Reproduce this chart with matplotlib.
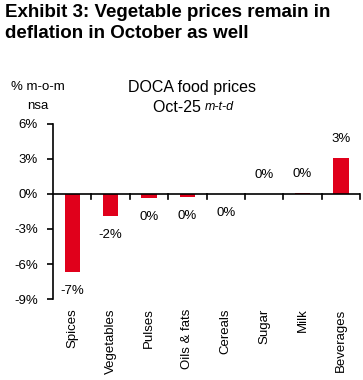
import matplotlib as mpl
import matplotlib.pyplot as plt
from matplotlib.ticker import FuncFormatter

plt.rcParams['font.family'] = ['Liberation Sans', 'DejaVu Sans']

categories = ['Spices', 'Vegetables', 'Pulses', 'Oils & fats', 'Cereals', 'Sugar', 'Milk', 'Beverages']
values = [-6.7, -1.9, -0.35, -0.3, -0.02, 0.02, 0.1, 3.1]
labels = ['-7%', '-2%', '0%', '0%', '0%', '0%', '0%', '3%']
yticks = [6, 3, 0, -3, -6, -9]

red = '#E0001B'

fig = plt.figure(figsize=(3.63, 3.80), dpi=100)
ax = fig.add_axes([0.146, 0.213, 0.846, 0.461])

x = list(range(len(categories)))
ax.bar(x, values, width=0.4, color=red, zorder=2)

for i, v in enumerate(values):
  # small bars still get their label on the side of their sign
  if v < 0:
    ax.annotate(labels[i], (i, v), xytext=(0, -9), textcoords='offset points',
                ha='center', va='top', fontsize=9.5)
  else:
    ax.annotate(labels[i], (i, v), xytext=(0, 9), textcoords='offset points',
                ha='center', va='bottom', fontsize=9.5)

ax.set_xlim(-0.5, len(categories) - 0.5)
ax.set_ylim(-9, 6)
ax.set_yticks(yticks)
ax.yaxis.set_major_formatter(FuncFormatter(lambda v, p: '%d%%' % v))

for s in ['top', 'right', 'bottom']:
  ax.spines[s].set_visible(False)
ax.spines['left'].set_linewidth(1.2)
ax.axhline(0, color='black', linewidth=1.2, zorder=3)

# category ticks sit between bars on the zero line
ax.set_xticks([i + 0.5 for i in x])
ax.set_xticklabels([])
ax.tick_params(axis='x', length=0)
for i in x:
  ax.plot([i + 0.5, i + 0.5], [0, -0.4], color='black', linewidth=1.2,
          clip_on=False, zorder=3)
  ax.text(i, -9.8, categories[i], rotation=90, ha='center', va='top', fontsize=9.5)

ax.tick_params(axis='y', direction='out', length=4, width=1.2, labelsize=9.5, pad=7)

fig.text(0.014, 0.99, 'Exhibit 3: Vegetable prices remain in\ndeflation in October as well',
         fontsize=13.5, fontweight='bold', ha='left', va='top', linespacing=1.3)
fig.text(0.105, 0.77, '% m-o-m', fontsize=9.5, ha='center', va='center')
fig.text(0.105, 0.72, 'nsa', fontsize=9.5, ha='center', va='center')
fig.text(0.53, 0.77, 'DOCA food prices', fontsize=11.5, ha='center', va='center')
fig.text(0.565, 0.718, 'Oct-25 ', fontsize=11.5, ha='right', va='center')
fig.text(0.565, 0.718, 'm-t-d', fontsize=9, style='italic', ha='left', va='center')

fig.savefig('out.png', dpi=100)
